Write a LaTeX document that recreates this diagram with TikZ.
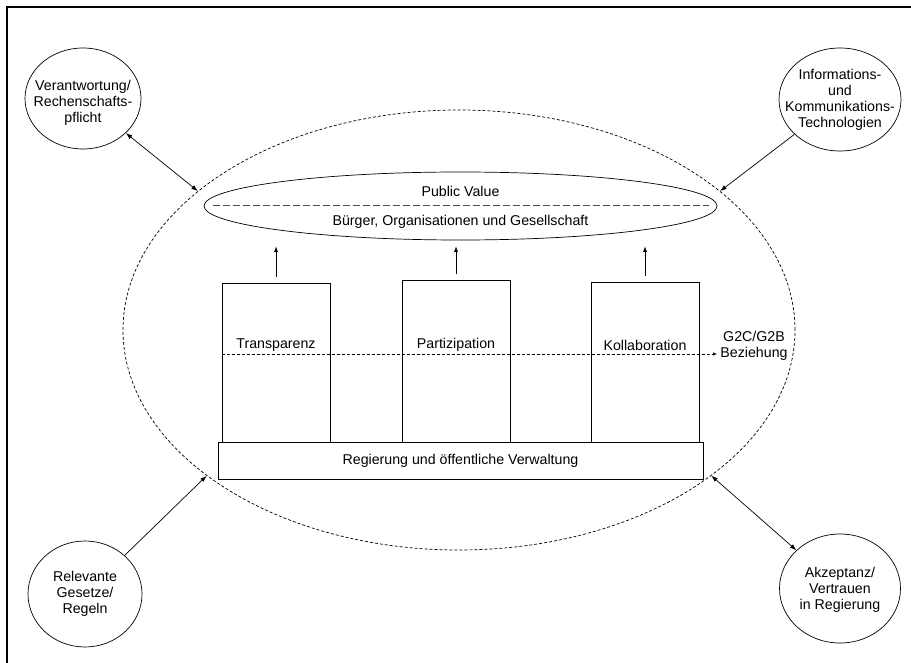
\documentclass[tikz,border=0pt]{standalone}
\usepackage{fontspec}
\setmainfont{Liberation Sans}
\usetikzlibrary{shapes.geometric,arrows.meta,calc}
\begin{document}
\begin{tikzpicture}[x=1pt,y=-1pt,
  line width=0.7pt,
  txt/.style={font=\fontsize{14.2}{16}\selectfont, align=center, inner sep=0pt},
  circ/.style={draw, ellipse, inner sep=0pt},
  box/.style={draw, rectangle, inner sep=0pt},
  tip/.style={-{Latex[length=6.5pt,width=4.5pt]}},
  dtip/.style={{Latex[length=6.5pt,width=4.5pt]}-{Latex[length=6.5pt,width=4.5pt]}},
  smalldash/.style={dash pattern=on 3pt off 2pt}
]
\useasboundingbox (0,0) rectangle (911,663);
% frame (only left and top edges fall inside the picture)
\coordinate (fa) at (7,663);
\coordinate (fb) at (7,7);
\coordinate (fc) at (911,7);
\draw[line width=1.1pt] (fa) -- (fb) -- (fc);

% outer dashed ellipse
\node[circ, smalldash, minimum width=672pt, minimum height=440pt] (outer) at (459,330) {};

% Public Value ellipse
\node[circ, minimum width=513pt, minimum height=68pt] (pv) at (460.5,206) {};
\coordinate (pvl) at (213,205.5);
\coordinate (pvr) at (709,205.5);
\draw[dash pattern=on 7pt off 3pt, draw=black!70] (pvl) -- (pvr);
\node[txt] (pvt) at (460.5,191) {Public Value};
\node[txt] (pvb) at (460.5,222) {Bürger, Organisationen und Gesellschaft};

% pillars
\node[box, minimum width=108pt, minimum height=159pt] (tp) at (276,362.5) {};
\node[box, minimum width=108pt, minimum height=162pt] (pp) at (456,361) {};
\node[box, minimum width=108pt, minimum height=160pt] (kp) at (645,362) {};
\node[txt] (tpt) at (276,345) {Transparenz};
\node[txt] (ppt) at (456,345) {Partizipation};
\node[txt] (kpt) at (645,345) {Kollaboration};

% base
\node[box, minimum width=485pt, minimum height=37pt, fill=white] (base) at (460.5,460.5) {};
\node[txt] (baset) at (460.5,461) {Regierung und öffentliche Verwaltung};

% up arrows
\foreach \p in {tp,pp,kp}{
  \draw[-{Latex[length=5.5pt,width=4pt]}] ([yshift=6pt]\p.north) -- ([yshift=-6pt]\p.north |- pv.south);
}

% G2C/G2B dashed arrow
\coordinate (g2c) at (717,354);
\draw[smalldash, -{Latex[length=4pt,width=3.5pt]}] (tp.west |- g2c) -- (g2c);
\node[txt] (g2ct) at (754,346) {G2C/G2B\\Beziehung};

% surrounding circles
\node[circ, minimum width=116pt, minimum height=101pt] (tl) at (83,98.5) {};
\node[txt] (tlt) at (83,103) {Verantwortung/\\Rechenschafts-\\pflicht};
\node[circ, minimum width=122pt, minimum height=103pt] (tr) at (840,99.5) {};
\node[txt] (trt) at (840,100) {Informations-\\und\\Kommunikations-\\Technologien};
\node[circ, minimum width=114pt, minimum height=106pt] (bl) at (85,594) {};
\node[txt] (blt) at (85,594) {Relevante\\Gesetze/\\Regeln};
\node[circ, minimum width=121pt, minimum height=109pt] (br) at (840,588.5) {};
\node[txt] (brt) at (840,590) {Akzeptanz/\\Vertrauen\\in Regierung};

% connectors
\draw[dtip] (tl) -- (outer.152);
\draw[tip] (tr) -- (outer.28.5);
\draw[tip] (bl) -- (outer.210.8);
\draw[dtip] (br) -- (outer.330.2);
\end{tikzpicture}
\end{document}
